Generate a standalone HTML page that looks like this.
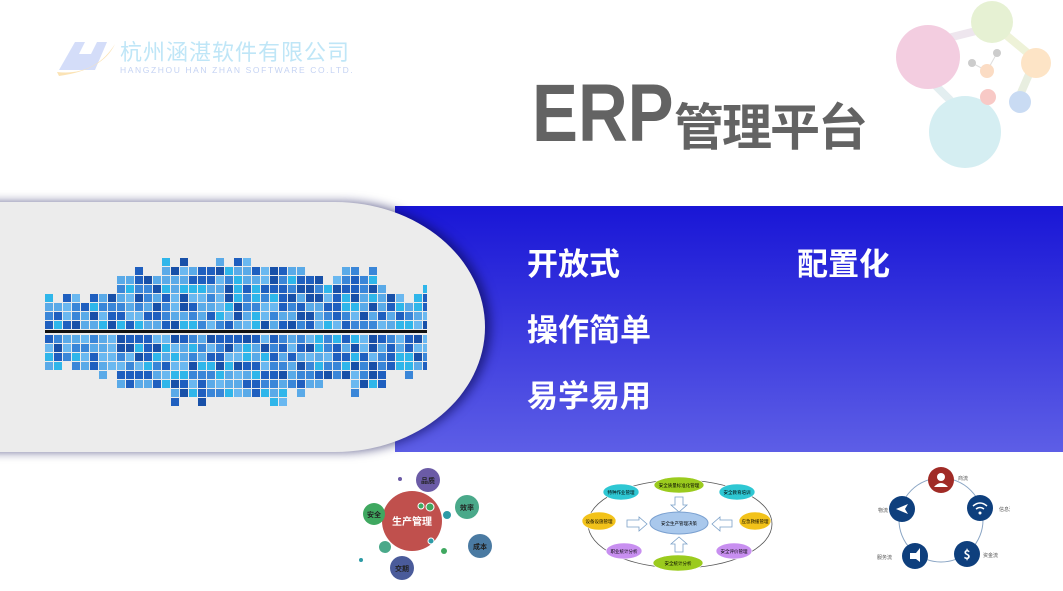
<!DOCTYPE html>
<html><head><meta charset="utf-8"><style>
*{margin:0;padding:0}
body{width:1063px;height:591px;position:relative;overflow:hidden;background:#fff;font-family:"Liberation Sans","Noto Sans CJK SC",sans-serif}
.a{position:absolute}
.w{color:#fff;font-weight:bold;font-size:31px;white-space:nowrap;font-family:"Noto Sans CJK SC",sans-serif}
</style></head><body>
<!-- logo -->
<div class="a" style="left:55px;top:30px;width:58px;height:45px">
<svg width="60" height="48"><path d="M4 40 L20 12 L30 12 L24 24 L36 24 L42 12 L52 12 L40 40 Z" fill="#c9d4f8" opacity=".8"/><path d="M2 42 Q40 46 60 14 Q48 40 4 46Z" fill="#fbe3b5"/></svg></div>
<div class="a" style="left:120px;top:38px;font-size:22px;color:#bfe6f7;letter-spacing:1px;font-family:'Noto Sans CJK SC',sans-serif;line-height:26px">杭州涵湛软件有限公司</div>
<div class="a" style="left:120px;top:65px;font-size:8.5px;color:#c5d3f3;letter-spacing:1.6px">HANGZHOU HAN ZHAN SOFTWARE CO.LTD.</div>
<!-- molecules -->
<svg class="a" style="left:880px;top:0" width="183" height="180">
<g stroke-width="8" stroke-linecap="round"><line x1="60" y1="40" x2="100" y2="30" stroke="#eee6ee"/><line x1="120" y1="30" x2="150" y2="55" stroke="#eef2d8"/><line x1="150" y1="72" x2="140" y2="95" stroke="#e8eee0"/><line x1="55" y1="85" x2="70" y2="100" stroke="#e3eef0"/></g>
<circle cx="48" cy="57" r="32" fill="#f3cde0"/>
<circle cx="112" cy="22" r="21" fill="#e6f1d3"/>
<circle cx="156" cy="63" r="15" fill="#fde4c6"/>
<circle cx="85" cy="132" r="36" fill="#d5eef2"/>
<line x1="92" y1="63" x2="107" y2="71" stroke="#ddd"/><line x1="117" y1="53" x2="107" y2="71" stroke="#ddd"/>
<circle cx="107" cy="71" r="7" fill="#fbdcc4"/>
<circle cx="108" cy="97" r="8" fill="#f8c9c6"/>
<circle cx="140" cy="102" r="11" fill="#c9dbf3"/>
<circle cx="92" cy="63" r="4" fill="#ccc"/><circle cx="117" cy="53" r="4" fill="#ccc"/>
</svg>
<div class="a" style="left:532px;top:66px;font-size:82px;font-weight:bold;color:#636363;transform:scaleX(.84);transform-origin:left;line-height:96px">ERP</div>
<div class="a" style="left:674px;top:94px;font-size:50px;font-weight:bold;color:#636363;font-family:'Noto Sans CJK SC',sans-serif;line-height:60px;letter-spacing:-2px">管理平台</div>
<!-- band -->
<div class="a" style="left:395px;top:206px;width:668px;height:246px;background:linear-gradient(#1916d6,#5d5ee6)"></div>
<div class="a" style="left:-20px;top:202px;width:505px;height:250px;background:#ececec;border-radius:0 150px 150px 0/0 125px 125px 0;box-shadow:6px 0 10px rgba(10,10,80,.6)"></div>
<svg class="a" id="eq" style="left:45px;top:245px" width="382" height="170"></svg>
<div class="a w" style="left:527px;top:239px">开放式</div>
<div class="a w" style="left:797px;top:239px">配置化</div>
<div class="a w" style="left:527px;top:305px">操作简单</div>
<div class="a w" style="left:527px;top:371px">易学易用</div>
<!-- bottom left diagram -->
<svg class="a" style="left:355px;top:462px" width="150" height="125" font-family="Noto Sans CJK SC,sans-serif" font-weight="bold">
<circle cx="57" cy="59" r="30" fill="#c0504d"/>
<text x="57" y="63" fill="#fff" font-size="10" text-anchor="middle">生产管理</text>
<circle cx="73" cy="18" r="12" fill="#6b5ba6"/><text x="73" y="21" font-size="7" fill="#222" text-anchor="middle">品质</text>
<circle cx="112" cy="45" r="12" fill="#4aa98a"/><text x="112" y="48" font-size="7" fill="#222" text-anchor="middle">效率</text>
<circle cx="19" cy="52" r="11" fill="#3fa860"/><text x="19" y="55" font-size="7" fill="#222" text-anchor="middle">安全</text>
<circle cx="125" cy="84" r="12" fill="#4a7aa2"/><text x="125" y="87" font-size="7" fill="#222" text-anchor="middle">成本</text>
<circle cx="47" cy="106" r="12" fill="#4a5b9a"/><text x="47" y="109" font-size="7" fill="#222" text-anchor="middle">交期</text>
<circle cx="75" cy="45" r="4" fill="#3fa860" stroke="#fff"/><circle cx="66" cy="44" r="3" fill="#3fa860" stroke="#fff"/>
<circle cx="30" cy="85" r="6" fill="#4aa98a"/><circle cx="89" cy="89" r="3" fill="#3fa860"/><circle cx="76" cy="79" r="3" fill="#2d9ba6" stroke="#fff"/>
<circle cx="6" cy="98" r="2" fill="#2d9ba6"/><circle cx="45" cy="17" r="2" fill="#6b5ba6"/><circle cx="92" cy="53" r="4" fill="#2d9ba6"/>
</svg>
<!-- middle diagram -->
<svg class="a" style="left:580px;top:470px" width="200" height="110" font-family="Noto Sans CJK SC,sans-serif" font-size="4.5" text-anchor="middle">
<ellipse cx="100" cy="54" rx="92" ry="44" fill="none" stroke="#555" stroke-width=".8"/>
<ellipse cx="99" cy="53" rx="29" ry="11" fill="#a9c8ec" stroke="#7aa0d0"/><text x="99" y="55">安全生产管理决策</text>
<g stroke="#fff" stroke-width=".6">
<ellipse cx="99" cy="15" rx="25" ry="8" fill="#9bcb1e"/><ellipse cx="41" cy="22" rx="18" ry="8" fill="#2ec7d3"/><ellipse cx="157" cy="22" rx="18" ry="8" fill="#2ec7d3"/>
<ellipse cx="19" cy="51" rx="17" ry="9" fill="#f2c21a"/><ellipse cx="175" cy="51" rx="16" ry="9" fill="#f2c21a"/>
<ellipse cx="44" cy="81" rx="18" ry="8" fill="#c88ff0"/><ellipse cx="154" cy="81" rx="18" ry="8" fill="#c88ff0"/><ellipse cx="98" cy="93" rx="25" ry="8" fill="#9bcb1e"/></g>
<text x="99" y="17">安全质量标准化管理</text><text x="41" y="24">特种作业管理</text><text x="157" y="24">安全教育培训</text><text x="19" y="53">设备设施管理</text><text x="175" y="53">应急救援管理</text><text x="44" y="83">职业统计分析</text><text x="154" y="83">安全评价管理</text><text x="98" y="95">安全统计分析</text>
<g fill="none" stroke="#7aa0c8" stroke-width=".8"><path d="M95 27h8v8h4l-8 7-8-7h4z"/><path d="M95 82h8v-8h4l-8-7-8 7h4z"/><path d="M47 50v7h12v4l8-7-8-7v3z"/><path d="M152 50v7h-12v4l-8-7 8-7v3z"/></g>
</svg>
<!-- right diagram -->
<svg class="a" style="left:860px;top:465px" width="150" height="115" font-family="Noto Sans CJK SC,sans-serif" font-size="5" fill="#555">
<circle cx="81" cy="55" r="42" fill="none" stroke="#8aa5c4" stroke-width="1"/>
<circle cx="81" cy="15" r="13" fill="#a02b26"/><circle cx="120" cy="43" r="13" fill="#0e3f7d"/><circle cx="107" cy="89" r="13" fill="#0e3f7d"/><circle cx="55" cy="91" r="13" fill="#0e3f7d"/><circle cx="42" cy="44" r="13" fill="#0e3f7d"/>
<circle cx="81" cy="12" r="4" fill="#fff"/><path d="M74 22q7-8 14 0z" fill="#fff"/>
<g fill="none" stroke="#fff" stroke-width="1.5"><path d="M113 41q7-6 14 0"/><path d="M116 44q4-3 8 0"/></g><circle cx="120" cy="48" r="1.5" fill="#fff"/>
<text x="107" y="94" fill="#fff" font-size="12" font-weight="bold" text-anchor="middle">$</text>
<path d="M36 44l12-5-3 5 3 5z" fill="#fff"/><path d="M50 88h6l4-5v14l-4-3h-6z" fill="#fff"/>
<text x="98" y="15">商流</text><text x="139" y="46">信息流</text><text x="123" y="92">资金流</text><text x="17" y="94">服务流</text><text x="18" y="47">物流</text>
</svg>
<script>
(function(){var s=document.getElementById('eq'),n='http://www.w3.org/2000/svg',c=['#1f5fbf','#3a86d8','#5aaae8','#2fb6ea','#1850a8','#6ab8f0'],seed=7;
function r(){seed=(seed*9301+49297)%233280;return seed/233280}
var mid=86;
function prof(x){var t=x/382;return 22+35*Math.exp(-Math.pow((t-.55)/.16,2))+25*Math.exp(-Math.pow((t-.35)/.1,2))+20*Math.exp(-Math.pow((t-.82)/.08,2))+14*Math.exp(-Math.pow((t-.22)/.08,2))}
for(var x=0;x<382;x+=9){var h=prof(x)+r()*16;var h2=prof(x)*0.95+r()*18;
for(var y=0;y<h;y+=9){var e=document.createElementNS(n,'rect');e.setAttribute('x',x);e.setAttribute('y',mid-10-y);e.setAttribute('width',8);e.setAttribute('height',8);e.setAttribute('fill',c[Math.floor(r()*6)]);s.appendChild(e)}
for(var y=0;y<h2;y+=9){var e=document.createElementNS(n,'rect');e.setAttribute('x',x);e.setAttribute('y',mid+4+y);e.setAttribute('width',8);e.setAttribute('height',8);e.setAttribute('fill',c[Math.floor(r()*6)]);s.appendChild(e)}}
var l=document.createElementNS(n,'rect');l.setAttribute('x',0);l.setAttribute('y',mid-1);l.setAttribute('width',382);l.setAttribute('height',3);l.setAttribute('fill','#111');s.appendChild(l)})();
</script>
</body></html>
